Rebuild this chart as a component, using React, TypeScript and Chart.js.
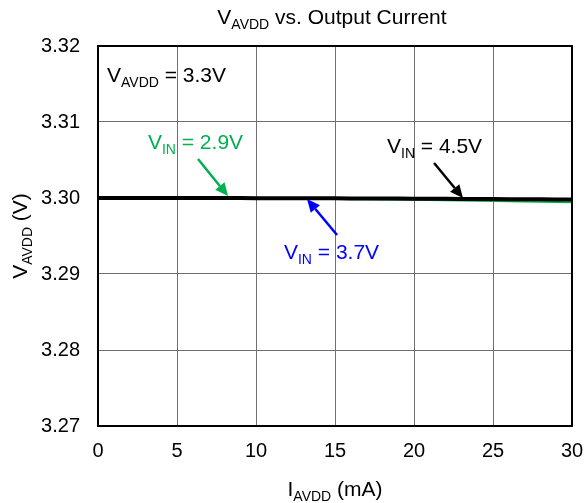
import React, { useEffect, useRef } from "react";
import { Chart, registerables } from "chart.js";

Chart.register(...registerables);

const currentMA = [0, 2, 4, 6, 8, 10, 12, 14, 16, 18, 20, 22, 24, 26, 28, 30];
const vin29 = [3.3, 3.3, 3.29999, 3.29997, 3.29994, 3.29992, 3.2999, 3.29988, 3.29985, 3.29981, 3.29976, 3.2997, 3.29963, 3.29956, 3.2995, 3.29944];
const vin37 = [3.3, 3.3, 3.3, 3.3, 3.30001, 3.30001, 3.30001, 3.3, 3.29998, 3.29996, 3.29993, 3.2999, 3.29987, 3.29984, 3.29981, 3.29978];
const vin45 = [3.3, 3.3, 3.3, 3.3, 3.29999, 3.29998, 3.29997, 3.29996, 3.29995, 3.29993, 3.29991, 3.29989, 3.29987, 3.29985, 3.29982, 3.2998];
const xTicks = [0, 5, 10, 15, 20, 25, 30];
const yTicks = [3.27, 3.28, 3.29, 3.3, 3.31, 3.32];

const FONT = "'Liberation Sans', Arial, sans-serif";
const GREEN = "#00B050";
const BLUE = "#0000FF";
const BLACK = "#000000";

type Part = { t: string; sub?: boolean };

function richWidth(ctx: CanvasRenderingContext2D, parts: Part[], size: number, subSize: number) {
  let w = 0;
  for (const p of parts) {
    ctx.font = `${p.sub ? subSize : size}px ${FONT}`;
    w += ctx.measureText(p.t).width;
  }
  return w;
}

function drawRich(
  ctx: CanvasRenderingContext2D,
  parts: Part[],
  x: number,
  y: number,
  size: number,
  color: string,
  align: "left" | "center" = "left"
) {
  const subSize = Math.round(size * 0.68);
  let cx = x;
  if (align === "center") cx = x - richWidth(ctx, parts, size, subSize) / 2;
  ctx.save();
  ctx.fillStyle = color;
  ctx.textBaseline = "alphabetic";
  ctx.textAlign = "left";
  for (const p of parts) {
    ctx.font = `${p.sub ? subSize : size}px ${FONT}`;
    ctx.fillText(p.t, cx, p.sub ? y + size * 0.25 : y);
    cx += ctx.measureText(p.t).width;
  }
  ctx.restore();
}

function drawArrow(ctx: CanvasRenderingContext2D, x1: number, y1: number, x2: number, y2: number, color: string) {
  const ang = Math.atan2(y2 - y1, x2 - x1);
  const headLen = 13;
  const headW = 6;
  const bx = x2 - headLen * Math.cos(ang);
  const by = y2 - headLen * Math.sin(ang);
  ctx.save();
  ctx.strokeStyle = color;
  ctx.fillStyle = color;
  ctx.lineWidth = 2.5;
  ctx.beginPath();
  ctx.moveTo(x1, y1);
  ctx.lineTo(bx, by);
  ctx.stroke();
  ctx.beginPath();
  ctx.moveTo(x2, y2);
  ctx.lineTo(bx + headW * Math.sin(ang), by - headW * Math.cos(ang));
  ctx.lineTo(bx - headW * Math.sin(ang), by + headW * Math.cos(ang));
  ctx.closePath();
  ctx.fill();
  ctx.restore();
}

const annotationPlugin = {
  id: "annotations",
  afterDatasetsDraw(chart: any) {
    const ctx: CanvasRenderingContext2D = chart.ctx;
    const xs = chart.scales.x;
    const ys = chart.scales.y;
    const px = (v: number) => xs.getPixelForValue(v);
    const py = (v: number) => ys.getPixelForValue(v);

    drawRich(ctx, [{ t: "V" }, { t: "AVDD", sub: true }, { t: " = 3.3V" }], px(0.57), py(3.31526), 21, BLACK);

    drawRich(ctx, [{ t: "V" }, { t: "IN", sub: true }, { t: " = 2.9V" }], px(3.16), py(3.30645), 21, GREEN);
    drawArrow(ctx, px(6.33), py(3.30513), px(8.23), py(3.30026), GREEN);

    drawRich(ctx, [{ t: "V" }, { t: "IN", sub: true }, { t: " = 3.7V" }], px(11.77), py(3.29197), 21, BLUE);
    drawArrow(ctx, px(15.13), py(3.29513), px(13.23), py(3.29987), BLUE);

    drawRich(ctx, [{ t: "V" }, { t: "IN", sub: true }, { t: " = 4.5V" }], px(18.29), py(3.30592), 21, BLACK);
    drawArrow(ctx, px(21.27), py(3.30461), px(23.1), py(3.3), BLACK);
  },
  afterDraw(chart: any) {
    const ctx: CanvasRenderingContext2D = chart.ctx;
    const a = chart.chartArea;
    const cx = (a.left + a.right) / 2;
    drawRich(ctx, [{ t: "V" }, { t: "AVDD", sub: true }, { t: " vs. Output Current" }], cx - 3, 24, 21, BLACK, "center");
    drawRich(ctx, [{ t: "I" }, { t: "AVDD", sub: true }, { t: " (mA)" }], cx, 496, 21, BLACK, "center");
    ctx.save();
    ctx.translate(27, (a.top + a.bottom) / 2);
    ctx.rotate(-Math.PI / 2);
    drawRich(ctx, [{ t: "V" }, { t: "AVDD", sub: true }, { t: " (V)" }], 0, 0, 21, BLACK, "center");
    ctx.restore();
    ctx.save();
    ctx.strokeStyle = BLACK;
    ctx.lineWidth = 2;
    ctx.strokeRect(a.left, a.top, a.right - a.left, a.bottom - a.top);
    ctx.restore();
  },
};

export default function App() {
  const ref = useRef<HTMLCanvasElement | null>(null);
  useEffect(() => {
    if (!ref.current) return;
    const chart = new Chart(ref.current, {
      type: "line",
      data: {
        datasets: [
          {
            label: "VIN = 4.5V",
            data: currentMA.map((x, i) => ({ x, y: vin45[i] })),
            borderColor: BLACK,
            borderWidth: 4,
            pointRadius: 0,
            tension: 0.3,
          },
          {
            label: "VIN = 3.7V",
            data: currentMA.map((x, i) => ({ x, y: vin37[i] })),
            borderColor: BLUE,
            borderWidth: 2,
            pointRadius: 0,
            tension: 0.3,
          },
          {
            label: "VIN = 2.9V",
            data: currentMA.map((x, i) => ({ x, y: vin29[i] })),
            borderColor: GREEN,
            borderWidth: 2,
            pointRadius: 0,
            tension: 0.3,
          },
        ],
      },
      options: {
        animation: false,
        responsive: false,
        maintainAspectRatio: false,
        layout: { padding: { top: 46, right: 13, left: 0, bottom: 0 } },
        plugins: { legend: { display: false }, title: { display: false }, tooltip: { enabled: false } },
        scales: {
          x: {
            type: "linear",
            min: 0,
            max: 30,
            afterFit: (s: any) => {
              s.height = 77;
              s.paddingLeft = 0;
              s.paddingRight = 0;
            },
            afterBuildTicks: (s: any) => {
              s.ticks = xTicks.map((v) => ({ value: v }));
            },
            grid: { color: "#707070", lineWidth: 1, drawTicks: false },
            border: { display: false },
            ticks: {
              padding: 13,
              color: BLACK,
              font: { family: FONT, size: 20 },
              maxRotation: 0,
              callback: (v: any) => String(v),
            },
          },
          y: {
            type: "linear",
            min: 3.27,
            max: 3.32,
            afterFit: (s: any) => {
              s.width = 98;
              s.paddingTop = 0;
              s.paddingBottom = 0;
            },
            afterBuildTicks: (s: any) => {
              s.ticks = yTicks.map((v) => ({ value: v }));
            },
            grid: { color: "#707070", lineWidth: 1, drawTicks: false },
            border: { display: false },
            ticks: {
              padding: 18,
              color: BLACK,
              font: { family: FONT, size: 20 },
              callback: (v: any) => Number(v).toFixed(2),
            },
          },
        },
      },
      plugins: [annotationPlugin],
    });
    return () => chart.destroy();
  }, []);
  return (
    <div style={{ position: "fixed", left: 0, top: 0, width: 585, height: 503, background: "#fff" }}>
      <canvas ref={ref} width={585} height={503} style={{ display: "block", width: 585, height: 503 }} />
    </div>
  );
}
